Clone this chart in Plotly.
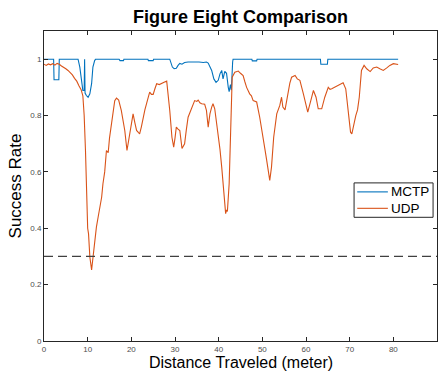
import plotly.graph_objects as go

# MCTP success rate vs. distance travelled
mctp_x = [0, 2.2, 2.3, 3.4, 3.5, 7.8, 8.2, 8.6, 8.9, 9.2, 9.3, 9.4, 9.7, 10.1, 10.5, 10.9,
          11.2, 11.6, 11.8, 17.2, 17.4, 18.2, 18.3, 23.8, 23.9, 25.0, 25.1, 28.8, 29.0,
          29.4, 29.8, 30.3, 30.7, 31.1, 31.6, 32.2, 33.0, 34.0, 34.5, 35.5, 36.5, 37.2,
          37.6, 38.0, 38.4, 38.9, 39.4, 39.9, 40.3, 40.7, 41.0, 41.4, 41.8, 42.2, 42.4,
          42.7, 42.9, 43.2, 43.3, 47.6, 47.7, 48.7, 48.8, 63.3, 63.4, 64.9, 65.0, 81.1]
mctp_y = [1, 1, 0.927, 0.927, 1, 1, 0.972, 0.93, 0.889, 0.889, 1.0, 0.88, 0.871, 0.865,
          0.877, 0.913, 0.972, 0.995, 1, 1, 0.995, 0.995, 1, 1, 0.995, 0.995, 1, 1, 0.99,
          0.972, 0.966, 0.968, 0.978, 0.985, 0.982, 0.988, 0.99, 0.99, 0.992, 0.99, 0.988,
          0.99, 0.986, 0.975, 0.96, 0.93, 0.918, 0.925, 0.948, 0.96, 0.93, 0.957, 0.95,
          0.90, 0.885, 0.91, 0.89, 0.99, 1, 1, 0.994, 0.994, 1, 1, 0.982, 0.982, 1, 1]

# UDP success rate vs. distance travelled
udp_x = [0, 0.5, 1, 1.5, 2, 2.5, 3, 3.5, 4, 4.5, 5, 5.5, 6, 6.5, 7, 7.5, 8, 8.5, 8.9,
         9.2, 9.5, 9.8, 10.0, 10.2, 10.5, 10.9, 11.2, 11.6, 12.0, 12.4, 12.8, 13.2, 13.5,
         13.9, 14.3, 14.7, 15.0, 15.4, 15.8, 16.2, 16.6, 17.1, 17.7, 18.1, 18.5, 19.0,
         19.6, 20.0, 20.4, 20.8, 21.2, 21.6, 21.9, 22.3, 22.7, 23.1, 23.5, 23.9, 24.2,
         24.6, 25.0, 25.4, 25.8, 26.4, 26.9, 27.5, 28.1, 28.4, 28.8, 29.3, 29.7, 30.0,
         30.3, 30.7, 31.1, 31.6, 32.2, 32.6, 33.0, 33.4, 33.8, 34.5, 35.0, 35.3, 35.7,
         36.1, 36.8, 37.2, 37.6, 38.0, 38.4, 38.7, 39.1, 39.5, 39.9, 40.3, 40.7, 41.3,
         41.6, 41.8, 42.0, 42.4, 42.8, 43.1, 43.7, 44.5, 45.0, 45.6, 46.0, 46.4, 47.1,
         47.5, 47.9, 48.3, 48.7, 49.4, 49.8, 50.2, 50.6, 51.0, 51.4, 51.7, 52.1, 52.6,
         53.3, 54.0, 54.4, 54.7, 55.2, 55.9, 56.3, 56.7, 57.5, 58.0, 58.6, 59.4, 59.9,
         60.4, 61.1, 61.7, 62.3, 62.8, 63.6, 64.3, 65.1, 65.5, 65.9, 66.6, 67.4, 68.0,
         68.5, 69.1, 69.7, 70.2, 70.5, 70.8, 71.4, 71.8, 72.2, 72.7, 73.3, 73.9, 74.7,
         75.4, 76.2, 76.9, 77.7, 78.5, 79.2, 80.0, 80.6, 81.1]
udp_y = [0.982, 0.978, 0.983, 0.980, 0.984, 0.979, 0.985, 0.982, 0.976, 0.972, 0.966,
         0.960, 0.952, 0.944, 0.932, 0.922, 0.906, 0.892, 0.870, 0.80, 0.676, 0.50, 0.40,
         0.38, 0.298, 0.252, 0.30, 0.36, 0.404, 0.44, 0.475, 0.51, 0.558, 0.60, 0.676,
         0.668, 0.72, 0.771, 0.81, 0.853, 0.862, 0.855, 0.818, 0.78, 0.747, 0.676, 0.736,
         0.77, 0.806, 0.775, 0.747, 0.74, 0.735, 0.76, 0.794, 0.82, 0.843, 0.865, 0.883,
         0.875, 0.875, 0.895, 0.913, 0.910, 0.915, 0.918, 0.922, 0.88, 0.818, 0.723,
         0.688, 0.72, 0.759, 0.752, 0.747, 0.683, 0.70, 0.75, 0.794, 0.81, 0.824, 0.853,
         0.850, 0.855, 0.845, 0.842, 0.840, 0.818, 0.759, 0.806, 0.83, 0.842, 0.824, 0.78,
         0.735, 0.68, 0.617, 0.511, 0.452, 0.465, 0.46, 0.558, 0.735, 0.936, 0.954, 0.958,
         0.950, 0.942, 0.92, 0.90, 0.877, 0.87, 0.853, 0.85, 0.848, 0.794, 0.75, 0.712,
         0.68, 0.641, 0.60, 0.57, 0.617, 0.723, 0.806, 0.836, 0.865, 0.83, 0.82, 0.889,
         0.915, 0.936, 0.942, 0.93, 0.925, 0.877, 0.84, 0.812, 0.853, 0.889, 0.865, 0.824,
         0.824, 0.865, 0.900, 0.893, 0.895, 0.900, 0.906, 0.910, 0.916, 0.895, 0.818,
         0.741, 0.735, 0.759, 0.80, 0.82, 0.865, 0.96, 0.978, 0.966, 0.956, 0.969, 0.972,
         0.966, 0.960, 0.969, 0.978, 0.984, 0.983, 0.981]

threshold = 0.3
x_ticks = [0, 10, 20, 30, 40, 50, 60, 70, 80, 90]
y_ticks = [0, 0.2, 0.4, 0.6, 0.8, 1]
y_tick_labels = ["0", "0.2", "0.4", "0.6", "0.8", "1"]
series_names = ["MCTP", "UDP"]

BLUE = "#0072BD"
ORANGE = "#D95319"
AXIS = "#262626"
FONT = "Liberation Sans, Arial, sans-serif"

fig = go.Figure()
fig.add_trace(go.Scatter(x=mctp_x, y=mctp_y, mode="lines", name=series_names[0],
                         line=dict(color=BLUE, width=1.1), showlegend=False))
fig.add_trace(go.Scatter(x=udp_x, y=udp_y, mode="lines", name=series_names[1],
                         line=dict(color=ORANGE, width=1.1), showlegend=False))

# reference threshold
fig.add_shape(type="line", xref="paper", x0=0, x1=1, yref="y", y0=threshold, y1=threshold,
              line=dict(color="#404040", width=1.2, dash="9px,5px"))

# compact boxed legend inside the axes
fig.add_shape(type="rect", xref="paper", yref="paper", x0=0.789, x1=0.990, y0=0.399, y1=0.510,
              line=dict(color=AXIS, width=1), fillcolor="white", layer="above")
for name, color, ly in zip(series_names, [BLUE, ORANGE], [0.481, 0.428]):
    fig.add_shape(type="line", xref="paper", yref="paper", x0=0.797, x1=0.875, y0=ly, y1=ly,
                  line=dict(color=color, width=1.1), layer="above")
    fig.add_annotation(text=name, xref="paper", yref="paper", x=0.877, y=ly,
                       xanchor="left", yanchor="middle", showarrow=False,
                       font=dict(family=FONT, size=13.5, color="black"))

# x-axis title placed just below the tick labels
fig.add_annotation(text="Distance Traveled (meter)", xref="paper", yref="paper",
                   x=0.5, y=-0.036, xanchor="center", yanchor="top", showarrow=False,
                   font=dict(family=FONT, size=16, color="black"))

axis_common = dict(showline=True, linecolor=AXIS, linewidth=1, mirror="ticks",
                   ticks="inside", ticklen=4, tickcolor=AXIS, tickwidth=1,
                   showgrid=False, zeroline=False, automargin=False,
                   tickfont=dict(family=FONT, size=8, color="#4d4d4d"))

fig.update_layout(
    width=439, height=373,
    margin=dict(l=44, r=2, t=31, b=32),
    paper_bgcolor="white", plot_bgcolor="white",
    font=dict(family=FONT, color="black"),
    title=dict(text="<b>Figure Eight Comparison</b>", x=0.548, xanchor="center",
               y=0.955, yanchor="middle", font=dict(family=FONT, size=18, color="black")),
    xaxis=dict(range=[0, 90], tickvals=x_ticks, **axis_common),
    yaxis=dict(range=[0, 1.1], tickvals=y_ticks, ticktext=y_tick_labels,
               title=dict(text="Success Rate", standoff=4,
                          font=dict(family=FONT, size=17, color="black")),
               **axis_common),
    showlegend=False,
)

fig.write_html("out.html")
